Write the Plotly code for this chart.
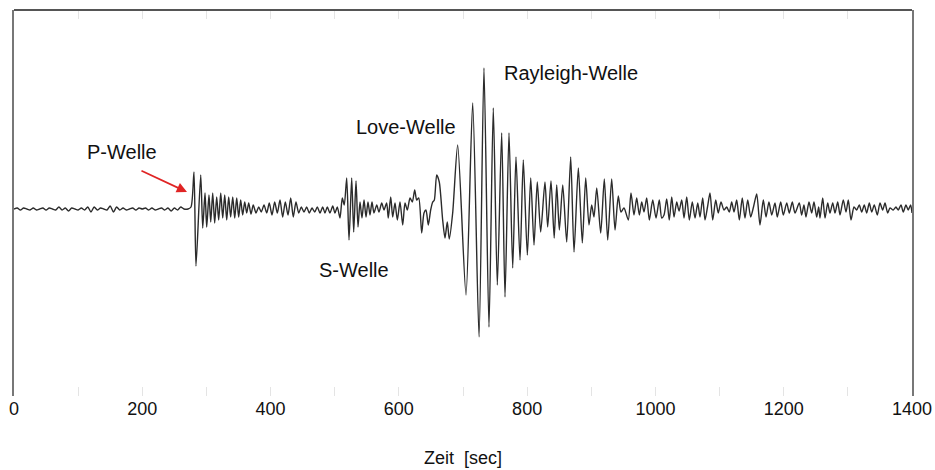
import plotly.graph_objects as go

# --- pre-event noise (time in s, amplitude in arbitrary units) ---
noise_t = [0, 5, 10, 15, 20, 25, 30, 35, 40, 45,
           50, 55, 60, 65, 70, 75, 80, 85, 90, 95,
           100, 105, 110, 115, 120, 125, 130, 135, 140, 145,
           150, 155, 160, 165, 170, 175, 180, 185, 190, 195,
           200, 205, 210, 215, 220, 225, 230, 235, 240, 245,
           250, 255, 260, 265]
noise_a = [0, 1, -1, 1, 0, -1, 1, -1, 0, 1,
           -1, 1, 0, -1, 2, -1, 1, -2, 1, 0,
           -1, 1, -1, 2, -3, 2, -1, 1, 0, -1,
           3, -3, 2, -1, 1, -1, 0, 1, -1, 1,
           0, 1, -1, 1, -1, 0, 1, -1, 1, -2,
           1, -1, 2, 0]

# --- P wave and coda ---
p_t = [271.3, 276, 280.6, 283.7, 291.1, 294.2, 297.8, 300.4, 304, 306.7,
       309.8, 312.9, 316, 319.1, 322.3, 325.4, 328.5, 331.6, 334.7, 337.8,
       341, 344.1, 347.2, 350.3, 353.4, 356.5, 359.7, 362.8, 365.9, 369.5,
       373, 377.3, 381.5, 385.5, 389.8, 394, 398, 402.2, 406.4, 410.5,
       414.7, 418.9, 423, 427.2, 431.4, 435.4, 439.6, 443.9, 447.9, 452.1,
       456.3, 460.4, 464.6, 468.8, 472.9, 477, 481.3, 484.8, 488.4, 492.6,
       496.9, 500.4, 504]
p_a = [0, 2, 37, -57, 34, -19, 16, -18, 14, -13,
       16, -14, 12, -11, 16, -9, 14, -11, 12, -8,
       12, -9, 11, -8, 9, -6, 7, -4, 6, -5,
       4, -4, 2, -3, 4, -4, 6, -6, 7, -4,
       9, -8, 7, -6, 11, -8, 7, -4, 2, -3,
       2, -4, 1, -3, 2, -4, 2, -4, 2, -4,
       3, -4, 2]

# --- S wave ---
s_t = [508.2, 511.8, 514.9, 518.7, 522.3, 526.5, 529.6, 533.2, 536.3, 539.4,
       542.5, 545.7, 548.8, 551.9, 555, 558.1, 561.2, 565.5, 569, 573.3,
       576.8, 581, 583.5, 587.3, 590.4, 594, 597.6, 601.8, 606, 609.6,
       613.2, 617.4, 621, 624.7, 627.8, 631, 635.6, 639.2, 642.3, 645.9,
       649.6, 652.8, 655.3, 659, 663, 668.3, 671.9, 675.5, 678.6, 683.9]
s_a = [-9, 11, 4, 31, -31, 31, -23, 28, -18, 7,
       -9, 9, -8, 7, -6, 7, -4, 4, -3, 6,
       -1, 6, -9, 12, -8, 6, -11, 7, -16, 6,
       -1, 11, 7, 19, 9, 11, -24, -4, -1, -16,
       -1, 7, 9, 34, 27, -11, -29, -13, -30, -4]

# --- Love and Rayleigh surface waves ---
surf_t = [691.7, 704.7, 715.1, 725, 732.7, 740.5, 747.2, 753.5, 760.3, 765.5,
          771.7, 777.5, 782.6, 788.9, 794, 800.3, 805.6, 810.7, 815.8, 821.1,
          827.8, 832, 837.2, 842.2, 846.1, 850.2, 855.5, 861.7, 867.9, 873.1,
          879.8, 886, 891.3, 896.4, 900.6, 904.2, 908.5, 914.7, 920.3, 925.6,
          931.8, 937, 942.1, 946.3, 951, 957.7, 961.9, 966.6, 970.8, 974.9,
          978.6, 982.2, 986.4, 990.5, 995.8, 1000.9, 1006, 1009.8]
surf_a = [64, -86, 106, -128, 141, -118, 101, -76, 76, -88,
          76, -59, 52, -51, 49, -46, 31, -36, 27, -23,
          27, -18, 28, -29, 24, -21, 24, -33, 52, -43,
          41, -34, 31, -16, 4, -8, 21, -24, 30, -31,
          30, -21, 13, -3, 1, -11, 16, -6, 11, -6,
          7, -3, 11, -11, 9, -9, 9, -9]

# --- late coda ---
coda_t = [1013.4, 1017.6, 1021.6, 1025.4, 1029, 1033.2, 1036.8, 1041, 1044.6, 1048.8,
          1052.8, 1057.5, 1061.7, 1066, 1069.5, 1073.7, 1077.3, 1081.2, 1085.1, 1089.3,
          1094, 1098, 1102.2, 1106.9, 1111.1, 1115.2, 1118.9, 1122.5, 1126.7, 1130.8,
          1135.4, 1139.6, 1143.9, 1148.5, 1152.9, 1157.9, 1163, 1168.2, 1172.4, 1177,
          1181.3, 1186.4, 1190, 1195.3, 1199.4, 1204.7, 1208.7, 1213.4, 1217.6, 1224.3,
          1228, 1231.6, 1234.7, 1239.4, 1243.6, 1247.2, 1251.4, 1254.5, 1256.6, 1260.8,
          1264.4, 1268.6, 1272.1, 1276.4, 1280, 1284.2, 1287.8, 1292.9, 1297.1, 1300.7,
          1304.9, 1309.6, 1313.8, 1317.8, 1321.6, 1325.6, 1329.4, 1333.4, 1337.2, 1341.2,
          1345.9, 1350.1, 1354.3, 1357.9, 1362.1, 1365.7, 1370.8, 1375, 1378.6, 1382.8,
          1386.4, 1390.6, 1394.1, 1397.9, 1400]
coda_a = [-6, 10, -11, 12, -8, 7, -2, 9, -9, 12,
          -11, 7, -9, 6, -8, 11, -11, 2, 16, -11,
          9, -4, 7, -1, 2, -3, 7, -3, 9, -11,
          11, -9, 9, -8, 2, 15, -16, 9, -8, 7,
          -6, 6, -8, 7, -6, 6, -4, 7, -4, 6,
          -6, 4, -8, 7, -4, 7, -8, 2, -9, 11,
          -9, 6, -4, 6, -4, 7, -6, 9, -3, 9,
          -11, 2, -1, 4, -3, 4, -4, 6, -3, 4,
          -6, 6, -1, 6, -4, 1, -1, 2, -1, 4,
          -3, 4, -1, 4, -4]

t = noise_t + p_t + s_t + surf_t + coda_t
a = noise_a + p_a + s_a + surf_a + coda_a

x_ticks = [0, 200, 400, 600, 800, 1000, 1200, 1400]

FONT = "Liberation Sans, Arial, sans-serif"

fig = go.Figure()
fig.add_trace(go.Scatter(
    x=t, y=a, mode="lines",
    line=dict(color="#2b2b2b", width=1.4, shape="spline", smoothing=0.7),
    hoverinfo="skip", showlegend=False,
))

labels = [
    ("P-Welle", 168, 57),
    ("Love-Welle", 611, 82),
    ("Rayleigh-Welle", 868, 136),
    ("S-Welle", 530, -61),
]
for txt, lx, ly in labels:
    fig.add_annotation(x=lx, y=ly, text=txt, showarrow=False,
                       font=dict(family=FONT, size=20, color="#111111"))

# red arrow pointing to P-wave onset
fig.add_annotation(x=269.7, y=17, ax=196.4, ay=39, xref="x", yref="y",
                   axref="x", ayref="y", text="", showarrow=True,
                   arrowhead=2, arrowsize=1.2, arrowwidth=1.7,
                   arrowcolor="#e02424")

# top frame line
fig.add_shape(type="line", xref="paper", yref="paper", x0=0, x1=1, y0=1, y1=1,
              line=dict(color="#555555", width=2.2))

fig.update_layout(
    width=935, height=470,
    margin=dict(l=14, r=23, t=10, b=74),
    paper_bgcolor="white", plot_bgcolor="white",
    font=dict(family=FONT, size=18, color="#111111"),
    xaxis=dict(
        range=[0, 1400], tickvals=x_ticks, ticktext=[str(v) for v in x_ticks],
        automargin=False,
        showgrid=False, zeroline=False, showline=False,
        ticks="inside", ticklen=9, tickcolor="#e4e4e4", tickwidth=1,
        mirror="ticks",
        minor=dict(dtick=100, tick0=0, ticks="inside", ticklen=9,
                   tickcolor="#e4e4e4", tickwidth=1),
        tickfont=dict(family=FONT, size=18, color="#111111"),
        title=dict(text="Zeit\u00a0\u00a0[sec]", standoff=33,
                   font=dict(family=FONT, size=18, color="#111111")),
    ),
    yaxis=dict(
        range=[-187, 199], showticklabels=False, ticks="",
        automargin=False,
        showgrid=False, zeroline=False,
        showline=True, mirror=True, linecolor="#777777", linewidth=1.5,
    ),
)

fig.write_html("out.html")
